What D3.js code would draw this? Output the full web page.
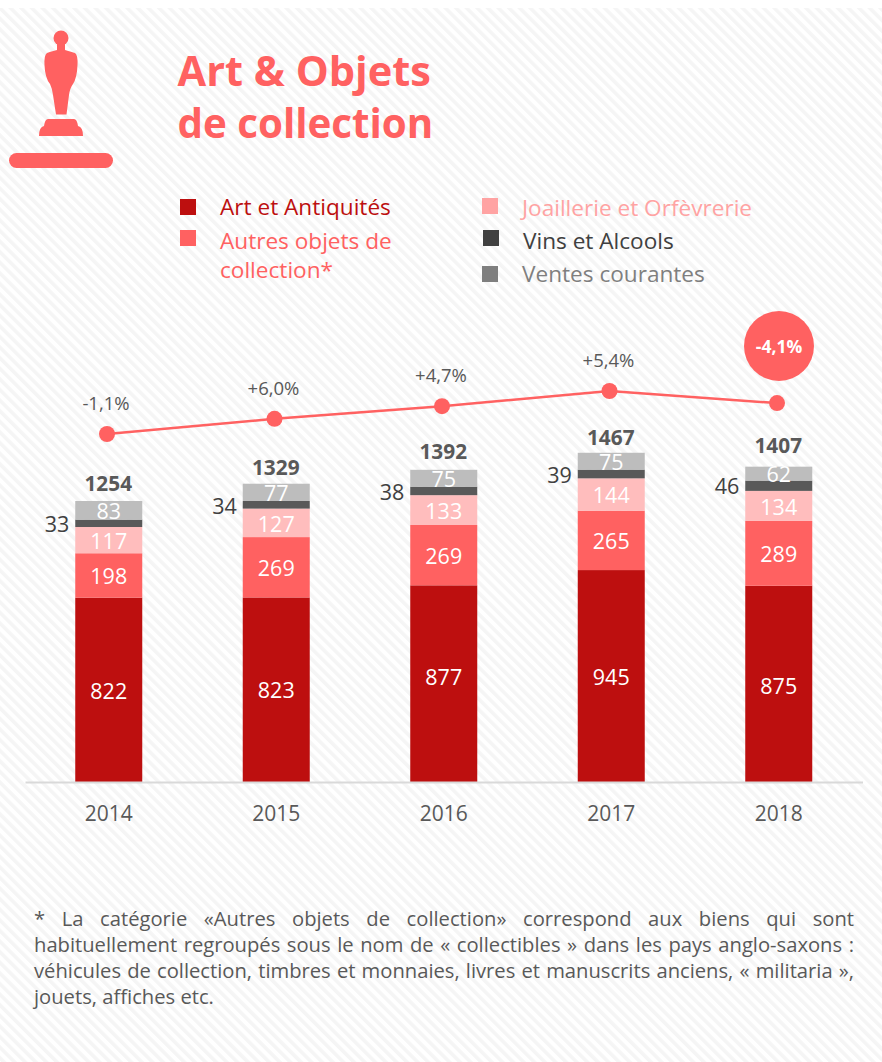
<!DOCTYPE html>
<html><head><meta charset="utf-8">
<script src="https://cdn.jsdelivr.net/npm/d3@7/dist/d3.min.js"></script>
<style>
html,body{margin:0;padding:0;background:#fff;}
#wrap{position:relative;width:882px;height:1062px;overflow:hidden;font-family:"Open Sans",sans-serif;}
svg{position:absolute;left:0;top:0;}
.note{position:absolute;left:34px;width:820px;font-size:20.2px;line-height:26px;color:#595959;white-space:nowrap;}
.just{text-align:justify;text-align-last:justify;white-space:normal;}
</style></head><body><div id="wrap"></div>
<script>
const years = ["2014","2015","2016","2017","2018"];
const art = [822,823,877,945,875];
const autres = [198,269,269,265,289];
const joaillerie = [117,127,133,144,134];
const vins = [33,34,38,39,46];
const ventes = [83,77,75,75,62];
const totals = [1254,1329,1392,1467,1407];
const growth = ["-1,1%","+6,0%","+4,7%","+5,4%","-4,1%"];
const seriesNames = ["Art et Antiquités","Autres objets de collection*","Joaillerie et Orfèvrerie","Vins et Alcools","Ventes courantes"];
const seriesValues = [art,autres,joaillerie,vins,ventes];
const barColors = ["#BD0F0F","#FF6161","#FFBDBD","#595959","#BDBDBD"];
const legendColors = ["#BD0F0F","#FF6161","#FFA3A3","#404040","#7F7F7F"];
const titleLines = ["Art & Objets","de collection"];
const noteLines = ["* La catégorie «Autres objets de collection» correspond aux biens qui sont",
 "habituellement regroupés sous le nom de « collectibles » dans les pays anglo-saxons :",
 "véhicules de collection, timbres et monnaies, livres et manuscrits anciens, « militaria »,",
 "jouets, affiches etc."];

const W=882,H=1062;
const wrap=d3.select("#wrap");
const svg=wrap.append("svg").attr("width",W).attr("height",H);
const font='"Open Sans",sans-serif';
const defs=svg.append("defs");
const pat=defs.append("pattern").attr("id","hatch").attr("patternUnits","userSpaceOnUse")
  .attr("width",7.5).attr("height",7.5).attr("patternTransform","rotate(-45)");
pat.append("rect").attr("width",7.5).attr("height",7.5).attr("fill","#fff");
pat.append("rect").attr("width",3.5).attr("height",7.5).attr("fill","#F5F5F5");
svg.append("rect").attr("y",8).attr("width",W).attr("height",H-8).attr("fill","url(#hatch)");

// Icon
const red="#FF6161";
const icon=svg.append("g").attr("fill",red);
icon.append("circle").attr("cx",61).attr("cy",38).attr("r",7.5);
icon.append("path").attr("d","M57,44 L57,50 Q49,52 47,53 Q44,55 44.5,65 Q45,78 50,84 Q52,88 53,95 L56,114.500 L66.500,114.500 L69,95 Q70,88 73,84 Q77,78 77.500,65 Q78,55 75,53 Q72,52 65,50 L65,44 Z");
icon.append("path").attr("d","M48,119 L74,119 Q77,119 78,126 Q83,127 83,136 L39,136 Q39,127 44,126 Q45,119 48,119 Z");
icon.append("rect").attr("x",9).attr("y",153).attr("width",104).attr("height",15).attr("rx",7.5);

// Title
svg.append("g").selectAll("text").data(titleLines).join("text")
  .attr("x",177.5).attr("y",(d,i)=>86+i*51.5)
  .attr("font-family",font).attr("font-weight",700).attr("font-size",(d,i)=>i?40.3:41.5).attr("fill",red).text(d=>d);

// Legend
const legendPos=[{sx:180,sy:199,tx:220,ty:215},{sx:180,sy:230,tx:220,ty:249},{sx:482,sy:198,tx:522,ty:216},{sx:483,sy:230,tx:523,ty:249},{sx:482,sy:266,tx:522,ty:282}];
const legendLines=seriesNames.map((n,i)=>i===1?["Autres objets de","collection*"]:[n]);
const lg=svg.append("g").selectAll("g").data(seriesNames).join("g");
lg.append("rect").attr("x",(d,i)=>legendPos[i].sx).attr("y",(d,i)=>legendPos[i].sy)
  .attr("width",16).attr("height",16).attr("fill",(d,i)=>legendColors[i]);
lg.each(function(d,i){
  d3.select(this).selectAll("text").data(legendLines[i]).join("text")
   .attr("x",legendPos[i].tx).attr("y",(l,j)=>legendPos[i].ty+j*28.5)
   .attr("font-family",font).attr("font-size",22.6).attr("fill",legendColors[i]).text(l=>l);
});

// Scales
const x=d3.scaleBand().domain(years).range([25,862.5]).paddingInner(0.6).paddingOuter(0.3);
const y=d3.scaleLinear().domain([0,1467]).range([782,453]);
const yLine=d3.scaleLinear().domain([1254,1467]).range([434,391]);
const xLine=d3.scalePoint().domain(years).range([107,777]);

const stack=d3.stack().keys(seriesNames.map((_,i)=>i)).value((d,k)=>seriesValues[k][d]);
const stacked=stack(years.map((_,i)=>i));

stacked.forEach((s,k)=>{
  const g=svg.append("g");
  g.selectAll("rect").data(s).join("rect")
   .attr("x",(d,i)=>x(years[i])).attr("width",x.bandwidth())
   .attr("y",d=>y(d[1])).attr("height",d=>y(d[0])-y(d[1])).attr("fill",barColors[k]);
});
// Label nudges (base-series labels sit off-centre in two bars)
const artNudge=[1,1,-6,1,2];
stacked.forEach((s,k)=>{
  const g=svg.append("g");
  g.selectAll("text").data(s).join("text")
   .attr("x",(d,i)=>k===3? x(years[i])-6 : x(years[i])+x.bandwidth()/2)
   .attr("y",(d,i)=>(y(d[0])+y(d[1]))/2+(k===0?artNudge[i]:1))
   .attr("dy","0.36em")
   .attr("text-anchor",k===3?"end":"middle")
   .attr("font-family",font).attr("font-size",21.5)
   .attr("fill",k===3?"#404040":"#fff")
   .text((d,i)=>seriesValues[k][i]);
});

// Totals
const totalGap=[9.5,8.5,11,8.5,13];
svg.append("g").selectAll("text").data(totals).join("text")
  .attr("x",(d,i)=>x(years[i])+x.bandwidth()/2-0.5).attr("y",(d,i)=>y(d)-totalGap[i])
  .attr("text-anchor","middle").attr("font-family",font).attr("font-weight",700).attr("font-size",20.8).attr("fill","#595959").text(d=>d);

// Axis
const ax=svg.append("g").attr("transform","translate(0,782)")
  .call(d3.axisBottom(x).tickSize(0).tickPadding(24));
ax.select(".domain").attr("stroke","#D9D9D9").attr("stroke-width",2);
ax.selectAll("text").attr("font-family",font).attr("font-size",21).attr("fill","#595959");

// Line
const line=d3.line().x((d,i)=>xLine(years[i])).y(d=>yLine(d));
svg.append("path").attr("d",line(totals)).attr("fill","none").attr("stroke",red).attr("stroke-width",2.5);
svg.append("g").selectAll("circle").data(totals).join("circle")
  .attr("cx",(d,i)=>xLine(years[i])).attr("cy",d=>yLine(d)).attr("r",8).attr("fill",red);
svg.append("g").selectAll("text").data(growth.slice(0,4)).join("text")
  .attr("x",(d,i)=>xLine(years[i])-1).attr("y",(d,i)=>yLine(totals[i])-24)
  .attr("text-anchor","middle").attr("font-family",font).attr("font-size",18.5).attr("fill","#595959").text(d=>d);
// Highlight badge
svg.append("circle").attr("cx",779).attr("cy",346).attr("r",35).attr("fill",red);
svg.append("text").attr("x",779).attr("y",347).attr("dy","0.36em").attr("text-anchor","middle")
  .attr("font-family",font).attr("font-weight",700).attr("font-size",17.5).attr("fill","#fff").text(growth[4]);

// Note
wrap.selectAll("div.note").data(noteLines).join("div")
  .attr("class",(d,i)=>i<3?"note just":"note")
  .style("top",(d,i)=>(905+i*26)+"px").text(d=>d);
</script></body></html>
